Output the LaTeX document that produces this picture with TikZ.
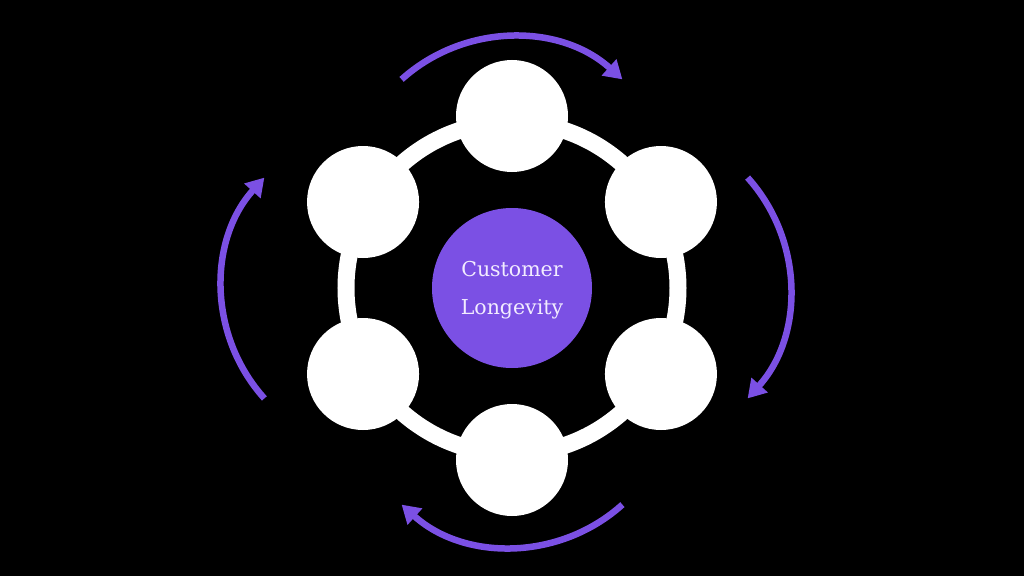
\documentclass[tikz,border=0pt]{standalone}
\usepackage{fontspec}
\newfontfamily\hubfont{DejaVu Serif}
\usetikzlibrary{arrows.meta,calc}
\definecolor{brandpurple}{HTML}{7B50E4}
\definecolor{textlav}{HTML}{F2ECFF}
\begin{document}
\begin{tikzpicture}[x=1pt,y=1pt,
  satellite/.style={circle,fill=white,minimum size=112pt,inner sep=0pt},
  hub/.style={circle,fill=brandpurple,minimum size=160pt,inner sep=0pt},
  hubtext/.style={inner sep=0pt,text=textlav,align=center,font=\hubfont\fontsize{20.5}{38}\selectfont},
  cyclearrow/.style={draw=brandpurple,line width=6.5pt,-{Triangle[length=18pt,width=21pt]}}]
\fill[black] (-512,-288) rectangle (512,288);
\useasboundingbox (-512,-288) rectangle (512,288);
% ring
\draw[white,line width=17pt] (0,0) circle[radius=166];
% hub
\node[hub] (hub) at (0,0) {};
\node[hubtext] (hublabel) at ([yshift=-2pt]hub.center) {Customer\\Longevity};
% satellites
\foreach \a/\n in {90/s1,30/s2,-30/s3,-90/s4,-150/s5,150/s6}
  \node[satellite] (\n) at (\a:172) {};
% cycle arrows
\coordinate (topstart) at ($(0,86)+(132:165)$);
\coordinate (rightstart) at ($(113,0)+(42:165)$);
\coordinate (bottomstart) at ($(0,-94)+(-48:165)$);
\coordinate (leftstart) at ($(-125,0)+(222:165)$);
\draw[cyclearrow] (topstart) arc[start angle=132,end angle=48,radius=165];
\draw[cyclearrow] (rightstart) arc[start angle=42,end angle=-42,radius=165];
\draw[cyclearrow] (bottomstart) arc[start angle=-48,end angle=-132,radius=165];
\draw[cyclearrow] (leftstart) arc[start angle=222,end angle=138,radius=165];
\end{tikzpicture}
\end{document}
